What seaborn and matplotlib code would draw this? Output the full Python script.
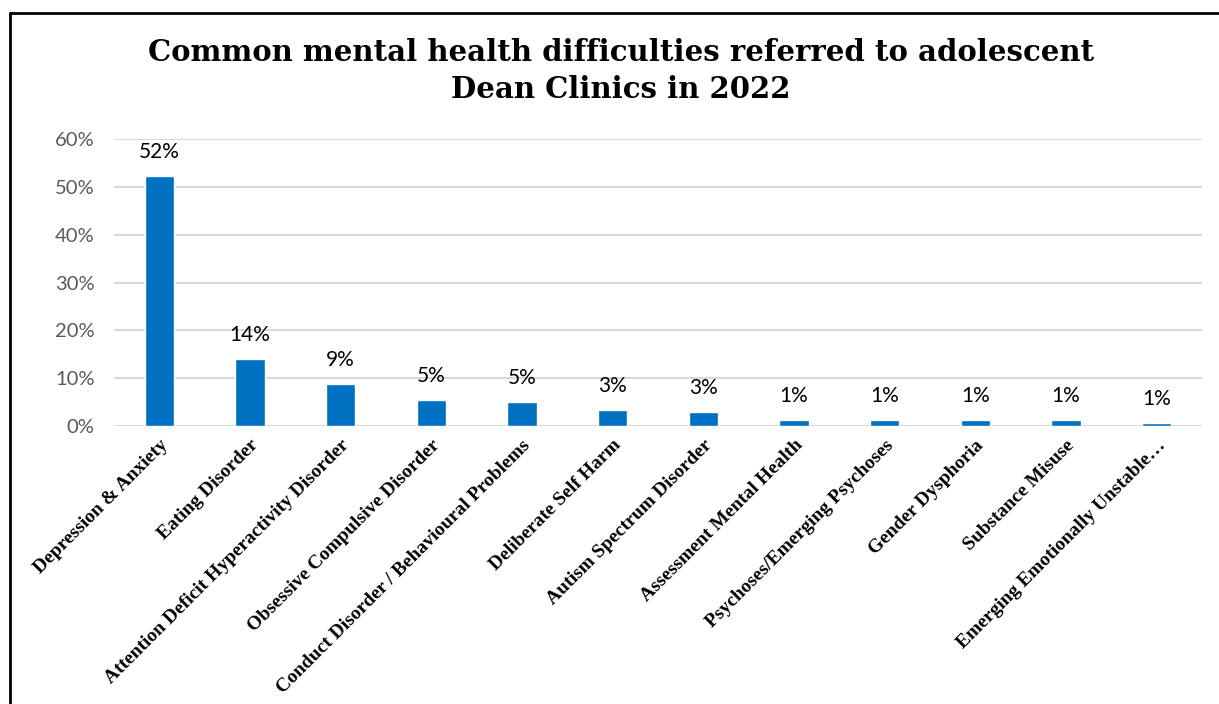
import matplotlib
matplotlib.use("Agg")
import matplotlib.pyplot as plt
import matplotlib.transforms as mtransforms
import seaborn as sns
import pandas as pd
from matplotlib.lines import Line2D

categories = [
    "Depression & Anxiety",
    "Eating Disorder",
    "Attention Deficit Hyperactivity Disorder",
    "Obsessive Compulsive Disorder",
    "Conduct Disorder / Behavioural Problems",
    "Deliberate Self Harm",
    "Autism Spectrum Disorder",
    "Assessment Mental Health",
    "Psychoses/Emerging Psychoses",
    "Gender Dysphoria",
    "Substance Misuse",
    "Emerging Emotionally Unstable\u2026",
]
values = [52.3, 14.0, 8.8, 5.4, 5.1, 3.4, 2.9, 1.2, 1.2, 1.2, 1.2, 0.7]
labels = ["52%", "14%", "9%", "5%", "5%", "3%", "3%", "1%", "1%", "1%", "1%", "1%"]
yticks = [0, 10, 20, 30, 40, 50, 60]
ytick_labels = ["0%", "10%", "20%", "30%", "40%", "50%", "60%"]
title = "Common mental health difficulties referred to adolescent\nDean Clinics in 2022"

sns.set_theme(style="white")

df = pd.DataFrame({"category": categories, "value": values})

fig = plt.figure(figsize=(12.19, 7.04), dpi=100)
ax = fig.add_axes([114/1219, 1-426/704, (1202-114)/1219, (426-139)/704])

sns.barplot(data=df, x="category", y="value", color="#0070C0", width=0.32,
            saturation=1, ax=ax, zorder=3)

ax.set_ylim(0, 60)
ax.set_xlim(-0.5, len(categories)-0.5)
ax.set_yticks(yticks)
ax.set_yticklabels(ytick_labels, family="Lato", fontsize=14.5, color="#595959")
ax.yaxis.grid(True, color="#D9D9D9", linewidth=1.5, zorder=0)
ax.xaxis.grid(False)
for s in ax.spines.values():
    s.set_visible(False)
ax.tick_params(axis="y", length=0, pad=14)
ax.tick_params(axis="x", length=0, pad=12)
ax.set_xlabel("")
ax.set_ylabel("")
ax.set_xticks(range(len(categories)))
ax.set_xticklabels(categories, rotation=45, ha="right", va="center",
                   rotation_mode="anchor", family="Liberation Serif",
                   fontweight="bold", fontsize=14, color="black")
offset = mtransforms.ScaledTranslation(6/100, 0, fig.dpi_scale_trans)
for t in ax.get_xticklabels():
    t.set_transform(t.get_transform() + offset)

for i, (v, lab) in enumerate(zip(values, labels)):
    ax.annotate(lab, (i, v), xytext=(0, 10), textcoords="offset points",
                ha="center", va="bottom", family="Lato", fontsize=15, color="black")

fig.text(621/1219, 1-71/704, title, ha="center", va="center", color="black",
         family="DejaVu Serif", fontweight="bold", fontsize=21, linespacing=1.35)

fig.add_artist(Line2D([9.5/1219, 9.5/1219], [0, 1-13/704], transform=fig.transFigure,
                      color="black", linewidth=2))
fig.add_artist(Line2D([9.5/1219, 1], [1-13/704, 1-13/704], transform=fig.transFigure,
                      color="black", linewidth=2))

fig.savefig("out.png", dpi=100)
